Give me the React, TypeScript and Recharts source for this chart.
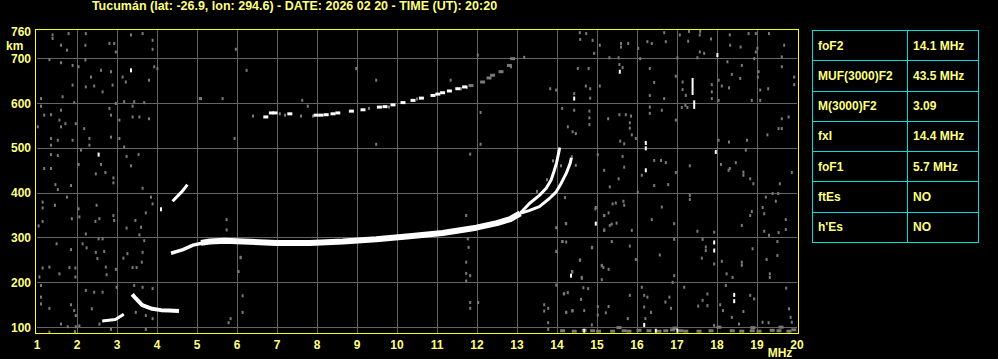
import React from 'react'
import { CartesianGrid, Scatter, ScatterChart, XAxis, YAxis } from 'recharts'

const TITLE = 'Tucumán (lat: -26.9, lon: 294.6) - DATE: 2026 02 20 - TIME (UT): 20:20'

const FREQ_TICKS = [1, 2, 3, 4, 5, 6, 7, 8, 9, 10, 11, 12, 13, 14, 15, 16, 17, 18, 19, 20]
const HEIGHT_TICKS = [100, 200, 300, 400, 500, 600, 700, 760]
const GRID_FREQS = [2, 3, 4, 5, 6, 7, 8, 9, 10, 11, 12, 13, 14, 15, 16, 17, 18, 19]
const GRID_HEIGHTS = [100, 200, 300, 400, 500, 600, 700]

const PARAM_NAMES = ['foF2', 'MUF(3000)F2', 'M(3000)F2', 'fxI', 'foF1', 'ftEs', "h'Es"]
const PARAM_VALUES = ['14.1 MHz', '43.5 MHz', '3.09', '14.4 MHz', '5.7 MHz', 'NO', 'NO']

type Pt = [number, number] // [MHz, km]

// F2 trace: thin start, thick body, then the two branches near foF2
const F2_START: Pt[] = [[4.35, 266], [4.65, 274], [4.9, 284], [5.32, 292]]
const F2_TRACE: Pt[] = [
  [5.1, 289], [5.32, 292], [5.7, 294], [6.15, 292], [6.98, 289],
  [7.82, 289], [8.65, 292], [9.48, 297], [10.31, 304], [11.14, 311], [11.98, 323],
  [12.5, 333], [12.83, 342], [13.08, 355],
]
const F2_BRANCH_O: Pt[] = [
  [13.08, 355], [13.31, 377], [13.56, 395], [13.73, 411], [13.85, 429], [13.93, 450],
  [13.99, 468], [14.07, 502],
]
const F2_BRANCH_X: Pt[] = [
  [13.08, 355], [13.3, 361], [13.56, 370], [13.81, 388], [13.98, 403], [14.08, 418],
  [14.23, 444], [14.33, 467], [14.36, 479],
]
const E_TRACE: Pt[] = [[3.38, 174], [3.47, 165], [3.63, 150], [3.88, 142], [4.1, 139], [4.3, 138], [4.55, 137]]
const LOW_TRACE: Pt[] = [[2.63, 115], [2.96, 118], [3.17, 130]]
const DIAG_TRACE: Pt[] = [[4.39, 382], [4.64, 405], [4.76, 419]]
const MULTI_HOP: Pt[] = [
  [6.72, 570], [6.86, 579], [6.95, 579], [7.32, 577], [7.98, 574], [8.1, 574], [8.23, 575],
  [8.4, 577], [8.52, 579], [8.86, 583], [9.15, 586], [9.56, 592], [9.7, 593], [9.9, 597],
  [10.15, 602], [10.4, 607], [10.61, 612], [10.9, 618], [11.02, 621], [11.14, 624],
  [11.31, 628], [11.52, 633], [11.69, 637],
]
const MULTI_HOP_TAIL: Pt[] = [
  [11.85, 640], [12.14, 648], [12.3, 657], [12.39, 663], [12.6, 671], [12.81, 685], [12.89, 700],
]
const SPIKE_TOP: Pt[] = [[17.39, 657], [17.39, 619]]
const SPIKE_BOTTOM: Pt[] = [[17.43, 607], [17.43, 588]]

const WHITE_SPECKS: Pt[] = [
  [3.35, 674], [2.54, 486], [4.1, 364], [15.57, 671], [14.43, 611], [18.01, 708], [16.22, 512],
  [16.22, 500], [16.22, 451], [17.97, 492], [14.97, 332], [17.93, 290], [17.93, 272],
  [14.35, 216], [18.43, 173], [18.43, 159], [16.18, 106], [16.47, 93], [17.01, 93], [14.68, 93],
]

const NOISE_LOW: Pt[] = [
  [1.39, 753], [1.39, 745], [1.79, 756], [1.6, 730], [1.75, 719], [2.22, 756], [2.21, 730],
  [2.93, 734], [2.81, 734], [3.35, 753], [3.64, 756], [3.89, 741], [3.89, 721], [2.97, 715],
  [1.31, 698], [1.6, 691], [1.89, 685], [2.04, 682], [2.21, 697], [2.6, 674], [2.85, 671],
  [3.14, 659], [3.22, 648], [3.8, 652], [4.01, 678], [3.93, 682], [2.35, 659], [2.22, 637],
  [2.43, 639], [1.89, 641], [1.64, 615], [1.1, 611], [1.93, 602], [2.64, 626], [2.89, 641],
  [3.18, 604], [3.43, 604], [3.68, 602], [2.97, 600], [1.1, 594], [1.35, 575], [1.6, 585],
  [1.71, 555], [1.18, 574], [1.56, 563], [1.6, 548], [1.02, 548], [2.18, 544], [2.31, 522],
  [1.97, 555], [2.81, 589], [2.85, 574], [3.06, 563], [3.39, 594], [3.39, 570], [3.56, 570],
  [3.8, 566], [1.35, 522], [1.35, 507], [1.52, 518], [1.89, 518], [2.31, 507], [2.85, 525],
  [3.06, 522], [3.18, 503], [1.35, 486], [1.52, 484], [2.1, 496], [2.04, 464], [2.6, 464],
  [2.47, 443], [2.71, 446], [2.91, 434], [2.91, 423], [3.24, 482], [3.35, 461], [3.54, 486],
  [1.18, 455], [1.35, 455], [1.46, 419], [1.85, 417], [1.52, 408], [3.64, 411], [1.14, 380],
  [1.14, 367], [1.45, 373], [1.75, 391], [2.04, 365], [2.06, 347], [2.49, 373], [2.46, 337],
  [2.56, 343], [2.91, 350], [2.93, 339], [3.24, 322], [3.46, 339], [3.6, 324], [3.56, 307],
  [3.72, 356], [3.85, 391], [3.89, 376], [1.04, 327], [1.14, 337], [1.87, 343], [2.22, 309],
  [2.54, 298], [2.64, 298], [2.14, 287], [2.24, 278], [1.85, 274], [1.49, 287], [2.47, 268],
  [2.68, 270], [2.51, 254], [2.72, 235], [2.74, 218], [2.97, 230], [3.16, 255], [3.26, 265],
  [3.39, 234], [3.49, 234], [3.62, 246], [3.64, 268], [3.68, 294], [1.14, 233], [1.31, 235],
  [1.56, 220], [1.81, 234], [1.96, 233], [1.96, 213], [1.06, 213], [1.1, 194], [1.1, 168],
  [1.1, 153], [1.31, 143], [1.85, 151], [1.93, 138], [1.97, 127], [2.22, 183], [2.43, 179],
  [2.37, 142], [2.64, 179], [2.99, 190], [3.43, 194], [3.64, 190], [3.89, 187], [3.89, 120],
  [3.72, 127], [3.47, 134], [1.6, 108], [1.77, 102], [1.97, 102], [2.06, 104], [1.31, 90],
  [1.95, 91], [2.85, 96], [2.56, 108], [3.72, 96], [5.1, 611],
]

const NOISE_MID: Pt[] = [
  [5.07, 611], [5.64, 611], [5.97, 721], [6.24, 674], [5.94, 522], [7.63, 607], [7.77, 594],
  [8.98, 678], [9.48, 652], [9.48, 509], [11.34, 652], [12.02, 708], [12.09, 580],
  [12.09, 509], [11.83, 487], [13.18, 703], [13.83, 633], [13.98, 630], [12.85, 682],
  [6.4, 572], [7.07, 577], [7.2, 574], [7.9, 572], [7.6, 572], [9.3, 589], [9.8, 592],
  [10.5, 610], [11.6, 633], [11.75, 636], [6.09, 257], [6.04, 225], [6.14, 171], [6.14, 134],
  [5.84, 120], [5.79, 111], [11.73, 221], [11.83, 216], [11.73, 204], [11.83, 156],
  [12.03, 156], [11.83, 143], [13.68, 151], [13.68, 137], [13.78, 143], [13.78, 111],
  [13.78, 96], [14.18, 176], [14.23, 134], [14.38, 137], [14.38, 225], [13.98, 195],
  [11.73, 350], [11.77, 298], [11.79, 279], [11.73, 246], [13.98, 323], [14.22, 332],
  [13.98, 270], [14.14, 292], [14.88, 279], [14.58, 251], [14.38, 225], [14.62, 210],
  [14.66, 189], [14.27, 178], [15.18, 350], [15.37, 331], [15.18, 318], [14.97, 368],
  [15.12, 238], [15.16, 234], [15.37, 292], [15.12, 207], [5.74, 341], [5.74, 318],
  [6.09, 256], [13.5, 404], [13.75, 430], [13.9, 472], [14.2, 390],
]

const NOISE_HIGH: Pt[] = [
  [14.57, 758], [14.73, 756], [14.89, 741], [14.93, 712], [14.58, 743], [15.07, 730],
  [15.6, 734], [15.78, 734], [15.6, 726], [16.03, 723], [16.26, 738], [16.37, 734],
  [16.68, 758], [16.72, 738], [17.07, 753], [17.3, 761], [17.58, 761], [17.57, 753],
  [17.28, 739], [17.85, 744], [17.57, 715], [17.68, 712], [18.32, 753], [18.33, 730],
  [18.59, 726], [18.79, 756], [18.97, 756], [18.97, 715], [19.01, 723], [19.3, 756],
  [19.68, 730], [19.62, 704], [15.31, 702], [15.54, 702], [16.08, 700], [17.01, 702],
  [17.51, 702], [18.93, 700], [14.52, 678], [14.79, 678], [15.56, 687], [15.64, 680],
  [16.32, 678], [15.07, 639], [14.72, 639], [14.83, 633], [14.43, 622], [14.83, 612],
  [16.43, 647], [16.32, 618], [16.68, 611], [16.97, 661], [17.14, 648], [17.14, 631],
  [17.22, 618], [17.12, 591], [17.26, 591], [17.87, 642], [17.87, 626], [17.87, 611],
  [18.04, 652], [18.12, 639], [18.04, 607], [18.3, 635], [18.37, 665], [18.26, 693],
  [18.62, 685], [18.58, 656], [19.04, 671], [19.02, 659], [19.08, 630], [19.28, 633],
  [19.08, 607], [18.87, 607], [19.62, 682], [19.93, 659], [19.93, 642], [14.13, 589],
  [14.43, 585], [14.81, 583], [14.81, 568], [14.81, 553], [14.47, 533], [14.27, 548],
  [14.39, 537], [15.28, 566], [15.56, 575], [15.72, 575], [15.85, 572], [15.82, 557],
  [15.82, 545], [15.87, 530], [15.58, 516], [15.68, 510], [15.97, 522], [16.32, 578],
  [16.32, 592], [16.62, 585], [16.97, 563], [17.21, 596], [18.04, 518], [18.3, 514],
  [18.75, 518], [19.26, 530], [19.62, 566], [19.54, 544], [19.62, 544], [19.79, 570],
  [14.1, 461], [14.47, 462], [14.37, 481], [15.02, 486], [15.18, 451], [15.64, 482],
  [15.68, 458], [15.54, 432], [15.32, 414], [16.12, 440], [16.43, 473], [16.6, 473],
  [16.72, 468], [16.43, 417], [16.78, 419], [16.97, 446], [17.32, 461], [18.29, 451],
  [18.32, 455], [18.1, 464], [18.47, 468], [18.66, 447], [18.66, 440], [18.83, 432],
  [18.91, 421], [18.72, 496], [19.57, 421], [19.87, 446], [16.02, 402], [17.32, 395],
  [17.32, 386], [19.39, 399], [19.53, 399], [19.22, 391], [19.47, 382], [19.14, 368],
  [19.18, 354], [19.18, 315], [19.3, 306], [19.54, 312], [19.72, 319], [19.72, 341],
  [18.87, 359], [18.83, 350], [18.62, 328], [17.93, 313], [17.51, 315], [16.62, 369],
  [16.37, 341], [16.93, 332], [15.87, 317], [15.66, 382], [15.68, 373], [15.39, 376],
  [15.47, 378], [15.29, 356], [15.18, 350], [15.49, 333], [15.32, 328], [15.18, 317],
  [14.96, 365], [14.23, 332], [14.23, 291], [14.13, 292], [14.87, 278], [14.57, 250],
  [14.38, 224], [14.62, 212], [15.12, 239], [15.29, 230], [15.82, 282], [15.97, 252],
  [16.57, 262], [16.93, 297], [16.93, 216], [17.72, 280], [17.72, 272], [17.64, 297],
  [17.62, 255], [17.93, 242], [18.12, 248], [18.24, 220], [18.39, 212], [18.62, 246],
  [18.62, 239], [18.89, 276], [19.24, 252], [19.32, 220], [19.32, 212], [19.51, 292],
  [19.51, 261], [14.17, 175], [14.23, 134], [14.39, 138], [14.6, 163], [14.68, 138],
  [14.78, 187], [14.87, 106], [15.02, 147], [15.02, 128], [15.22, 133], [15.29, 147],
  [15.77, 120], [15.82, 172], [16.12, 190], [16.18, 172], [16.18, 146], [16.26, 168],
  [16.35, 134], [16.21, 120], [16.71, 157], [16.81, 168], [16.85, 143], [16.89, 201],
  [17.18, 190], [17.53, 148], [17.64, 161], [17.76, 175], [17.76, 149], [17.93, 105],
  [18.08, 151], [18.15, 138], [18.22, 194], [18.37, 123], [18.55, 108], [18.66, 136],
  [18.83, 172], [18.93, 164], [19.14, 112], [19.29, 111], [19.73, 188], [19.8, 142],
  [19.84, 123], [19.87, 112],
]

// strip of interference just above the bottom edge
const NOISE_FLOOR: Pt[] = [
  [14.14, 93], [14.43, 92], [14.68, 94], [14.89, 93], [15.04, 92], [15.39, 92], [15.68, 93],
  [15.8, 92], [16.05, 94], [16.3, 93], [16.55, 92], [16.72, 93], [16.89, 95], [17.1, 93],
  [17.22, 92], [17.55, 92], [17.85, 93], [18.05, 101], [18.38, 93], [18.62, 92], [18.88, 93],
  [19.05, 92], [19.38, 94], [19.55, 93], [19.8, 92], [19.92, 95], [15.55, 100], [16.95, 99],
  [18.9, 100], [19.6, 101],
]

const YELLOW = '#ffff80'
const GREY = '#7a7a7a'
const FONT = '"Liberation Sans", Arial, sans-serif'

const toData = (pts: Pt[]) => pts.map(([f, km]) => ({ f, km }))

const block = (w: number, h: number, fill: string) => (props: any) =>
  <rect x={props.cx - w / 2} y={props.cy - h / 2} width={w} height={h} fill={fill} />

const noShape = () => <g />

const traceLine = (width: number) => ({ stroke: '#fff', strokeWidth: width, strokeLinejoin: 'round' as const })

const FreqTick = ({ x, payload }: any) => (
  <g>
    <text x={x} y={349} textAnchor="middle" fill={YELLOW} fontSize={12} fontWeight="bold" fontFamily={FONT}>
      {payload.value}
    </text>
    {payload.value === 20 && (
      <text x={x - 17} y={357} textAnchor="middle" fill={YELLOW} fontSize={12} fontWeight="bold" fontFamily={FONT}>
        MHz
      </text>
    )}
  </g>
)

const HeightTick = ({ y, payload }: any) => (
  <g>
    <text x={31} y={y + 4} textAnchor="end" fill={YELLOW} fontSize={12} fontWeight="bold" fontFamily={FONT}>
      {payload.value}
    </text>
    {payload.value === 760 && (
      <text x={6} y={y + 18} fill={YELLOW} fontSize={12} fontWeight="bold" fontFamily={FONT}>
        km
      </text>
    )}
  </g>
)

function ParamTable() {
  const rowH = 212 / PARAM_NAMES.length
  const cell: React.CSSProperties = {
    border: '1px solid #00e0e0',
    padding: '0 0 0 5px',
    height: rowH - 1,
    color: YELLOW,
    fontFamily: FONT,
    fontWeight: 'bold',
    fontSize: 12,
    textAlign: 'left',
    verticalAlign: 'middle',
  }
  return (
    <table
      style={{
        position: 'absolute', left: 812, top: 30, width: 166, height: 213,
        borderCollapse: 'collapse', tableLayout: 'fixed',
      }}
    >
      <colgroup>
        <col style={{ width: 95 }} />
        <col style={{ width: 71 }} />
      </colgroup>
      <tbody>
        {PARAM_NAMES.map((name, i) => (
          <tr key={name}>
            <td style={cell}>{name}</td>
            <td style={cell}>{PARAM_VALUES[i]}</td>
          </tr>
        ))}
      </tbody>
    </table>
  )
}

export default function App() {
  return (
    <div className="ionogram" style={{ position: 'fixed', left: 0, top: 0, width: 998, height: 359, background: '#000', overflow: 'hidden' }}>
      <style>{'.ionogram line { shape-rendering: crispEdges; }'}</style>
      <div
        style={{
          position: 'absolute', left: 0, top: -1, width: 589, textAlign: 'center',
          color: YELLOW, fontFamily: FONT, fontWeight: 'bold', fontSize: 12.5, whiteSpace: 'nowrap',
        }}
      >
        {TITLE}
      </div>
      <ScatterChart width={998} height={359} margin={{ top: 30, right: 201, bottom: 0, left: 0 }}>
        <CartesianGrid
          stroke="#646464"
          strokeWidth={1}
          verticalValues={GRID_FREQS}
          horizontalValues={GRID_HEIGHTS}
        />
        <XAxis
          type="number"
          dataKey="f"
          domain={[1, 20]}
          ticks={FREQ_TICKS}
          interval={0}
          height={26}
          axisLine={false}
          tickLine={false}
          tick={<FreqTick />}
        />
        <YAxis
          type="number"
          dataKey="km"
          domain={[88, 764]}
          ticks={HEIGHT_TICKS}
          interval={0}
          width={37}
          axisLine={false}
          tickLine={false}
          tick={<HeightTick />}
        />
        <Scatter data={toData(NOISE_LOW)} shape={block(2, 3, GREY)} isAnimationActive={false} />
        <Scatter data={toData(NOISE_MID)} shape={block(2, 3, GREY)} isAnimationActive={false} />
        <Scatter data={toData(NOISE_HIGH)} shape={block(2, 3, GREY)} isAnimationActive={false} />
        <Scatter data={toData(NOISE_FLOOR)} shape={block(5, 3, GREY)} isAnimationActive={false} />
        <Scatter data={toData(MULTI_HOP_TAIL)} shape={block(5, 3, GREY)} isAnimationActive={false} />
        <Scatter data={toData(MULTI_HOP)} shape={block(5, 3, '#fff')} isAnimationActive={false} />
        <Scatter data={toData(F2_START)} line={traceLine(3.5)} shape={noShape} isAnimationActive={false} />
        <Scatter data={toData(F2_TRACE)} line={traceLine(6)} shape={noShape} isAnimationActive={false} />
        <Scatter data={toData(F2_BRANCH_O)} line={traceLine(3)} shape={noShape} isAnimationActive={false} />
        <Scatter data={toData(F2_BRANCH_X)} line={traceLine(3)} shape={noShape} isAnimationActive={false} />
        <Scatter data={toData(E_TRACE)} line={traceLine(4)} shape={noShape} isAnimationActive={false} />
        <Scatter data={toData(LOW_TRACE)} line={traceLine(3)} shape={noShape} isAnimationActive={false} />
        <Scatter data={toData(DIAG_TRACE)} line={traceLine(3)} shape={noShape} isAnimationActive={false} />
        <Scatter data={toData(SPIKE_TOP)} line={traceLine(2)} shape={noShape} isAnimationActive={false} />
        <Scatter data={toData(SPIKE_BOTTOM)} line={traceLine(2)} shape={noShape} isAnimationActive={false} />
        <Scatter data={toData(WHITE_SPECKS)} shape={block(2, 4, '#fff')} isAnimationActive={false} />
      </ScatterChart>
      <div
        style={{
          position: 'absolute', left: 35, top: 29, width: 764, height: 305,
          border: '1px solid #ffff00', boxSizing: 'border-box', pointerEvents: 'none',
        }}
      />
      <ParamTable />
    </div>
  )
}
